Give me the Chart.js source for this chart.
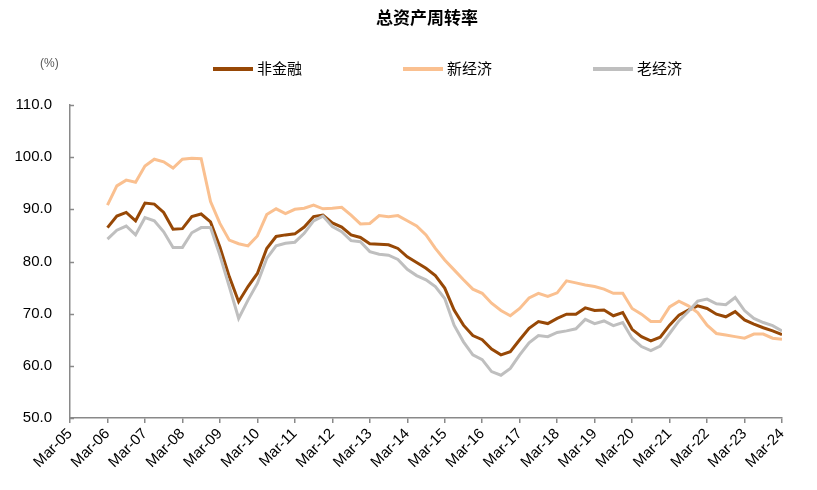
<!DOCTYPE html>
<html>
<head>
<meta charset="utf-8">
<script src="https://cdn.jsdelivr.net/npm/chart.js@4.4.1/dist/chart.umd.min.js"></script>
<style>
  body { margin: 0; background: #fff; }
  #wrap { position: relative; width: 817px; height: 490px; }
  #title { position: absolute; left: 0; width: 854px; top: 4px; text-align: center;
           font: bold 17px "Noto Sans CJK SC", sans-serif; color: #000; }
  #unit { position: absolute; left: 40px; top: 56px; font: 12px "Liberation Sans", Arial, sans-serif; color: #595959; }
  .lg { position: absolute; top: 57px; font: 15px "Noto Sans CJK SC", sans-serif; color: #000; white-space: nowrap; }
  .lg i { display: inline-block; width: 40px; height: 4px; vertical-align: middle; margin-right: 4px; position: relative; top: -1px; }
</style>
</head>
<body>
<div id="wrap">
  <div id="title">总资产周转率</div>
  <div id="unit">(%)</div>
  <div id="legend"></div>
  <canvas id="chart" width="817" height="490"></canvas>
</div>
<script>
// yearly tick labels, one per 4 quarters starting Mar-05
const yearLabels = ['Mar-05','Mar-06','Mar-07','Mar-08','Mar-09','Mar-10','Mar-11','Mar-12','Mar-13','Mar-14',
  'Mar-15','Mar-16','Mar-17','Mar-18','Mar-19','Mar-20','Mar-21','Mar-22','Mar-23','Mar-24'];
// quarterly data, Mar-06 .. Mar-24
const startQuarter = 4;
const seriesNames = ['非金融','新经济','老经济'];
const seriesColors = ['#974806','#FAC090','#BFBFBF'];

const nonFin = [86.5,88.7,89.4,87.8, 91.2,91.0,89.4,86.2, 86.3,88.6,89.1,87.6, 82.8,77.1,72.3,75.2,
  77.7,82.5,84.8,85.1, 85.3,86.6,88.6,88.9, 87.4,86.6,85.1,84.6, 83.4,83.3,83.2,82.5,
  80.9,79.8,78.7,77.3, 74.9,70.7,67.8,65.8, 65.0,63.2,62.1,62.7, 65.0,67.2,68.5,68.1,
  69.1,69.9,69.9,71.1, 70.6,70.7,69.6,70.2, 67.0,65.6,64.8,65.5, 67.8,69.7,70.7,71.5,
  71.0,69.9,69.4,70.4, 68.8,68.0,67.3,66.7, 66.0];
const newEcon = [90.8,94.5,95.6,95.2, 98.3,99.6,99.1,97.9, 99.6,99.8,99.7,91.5, 87.3,84.1,83.4,83.0,
  84.9,89.0,90.1,89.2, 90.0,90.2,90.8,90.1, 90.2,90.4,88.9,87.2, 87.3,88.8,88.6,88.8,
  87.8,86.8,85.1,82.5, 80.3,78.4,76.5,74.7, 73.9,72.0,70.6,69.6, 71.0,73.0,73.9,73.3,
  74.0,76.3,75.9,75.5, 75.2,74.7,73.9,73.9, 71.0,69.9,68.5,68.5, 71.3,72.4,71.5,70.2,
  67.8,66.2,65.9,65.6, 65.3,66.1,66.1,65.3, 65.1];
const oldEcon = [84.3,86.0,86.8,85.1, 88.4,87.8,85.7,82.7, 82.7,85.5,86.5,86.5, 81.2,75.2,69.1,72.6,
  75.8,80.6,83.0,83.5, 83.7,85.4,87.8,88.7, 86.7,85.7,84.0,83.8, 81.9,81.4,81.2,80.4,
  78.5,77.3,76.5,75.2, 72.9,67.8,64.6,62.1, 61.2,58.9,58.2,59.5, 62.1,64.4,65.8,65.6,
  66.4,66.7,67.1,68.9, 68.1,68.6,67.7,68.3, 65.3,63.7,62.9,63.8, 66.2,68.6,70.4,72.4,
  72.8,71.9,71.7,73.1, 70.6,69.1,68.3,67.7, 66.7];

const allSeries = [nonFin, newEcon, oldEcon];

// html legend
const legendEl = document.getElementById('legend');
const legendX = [213, 403, 593];
seriesNames.forEach((n, k) => {
  const d = document.createElement('div');
  d.className = 'lg';
  d.style.left = legendX[k] + 'px';
  d.innerHTML = `<i style="background:${seriesColors[k]}"></i>${n}`;
  legendEl.appendChild(d);
});

const toPoints = arr => arr.map((v, i) => ({ x: startQuarter + i, y: v }));
const axisColor = '#898989';
const tickFont = { family: '"Liberation Sans", Arial, sans-serif', size: 15 };

// y axis tick marks point into the plot (excel style)
const innerTicks = {
  id: 'innerTicks',
  afterDraw(chart) {
    const y = chart.scales.y, ctx = chart.ctx;
    ctx.save();
    ctx.strokeStyle = axisColor;
    ctx.lineWidth = 1.5;
    y.ticks.forEach(t => {
      const py = Math.round(y.getPixelForValue(t.value)) + 0.5;
      ctx.beginPath();
      ctx.moveTo(y.right, py);
      ctx.lineTo(y.right + 4, py);
      ctx.stroke();
    });
    ctx.restore();
  }
};

new Chart(document.getElementById('chart'), {
  type: 'line',
  data: {
    datasets: allSeries.map((arr, k) => ({
      label: seriesNames[k],
      data: toPoints(arr),
      borderColor: seriesColors[k],
      backgroundColor: seriesColors[k],
      borderWidth: 3,
      pointRadius: 0,
      tension: 0
    })).reverse()
  },
  plugins: [innerTicks],
  options: {
    responsive: false,
    animation: false,
    layout: { padding: { top: 105, right: 35, bottom: 0, left: 0 } },
    plugins: { legend: { display: false }, title: { display: false }, tooltip: { enabled: false } },
    scales: {
      x: {
        type: 'linear', min: 0, max: 76,
        border: { color: axisColor, width: 1.5 },
        grid: { drawOnChartArea: false, color: axisColor, tickLength: 5, lineWidth: 1.5 },
        ticks: {
          stepSize: 4, autoSkip: false, maxRotation: 45, minRotation: 45, padding: 2,
          color: '#000', font: tickFont,
          callback: v => yearLabels[v / 4]
        },
        afterFit: s => { s.height = 72; }
      },
      y: {
        min: 50, max: 110,
        border: { color: axisColor, width: 1.5 },
        grid: { display: false },
        ticks: { stepSize: 10, padding: 10, color: '#000', font: tickFont, callback: v => v.toFixed(1) },
        afterFit: s => { s.width = 70; }
      }
    }
  }
});
</script>
</body>
</html>
